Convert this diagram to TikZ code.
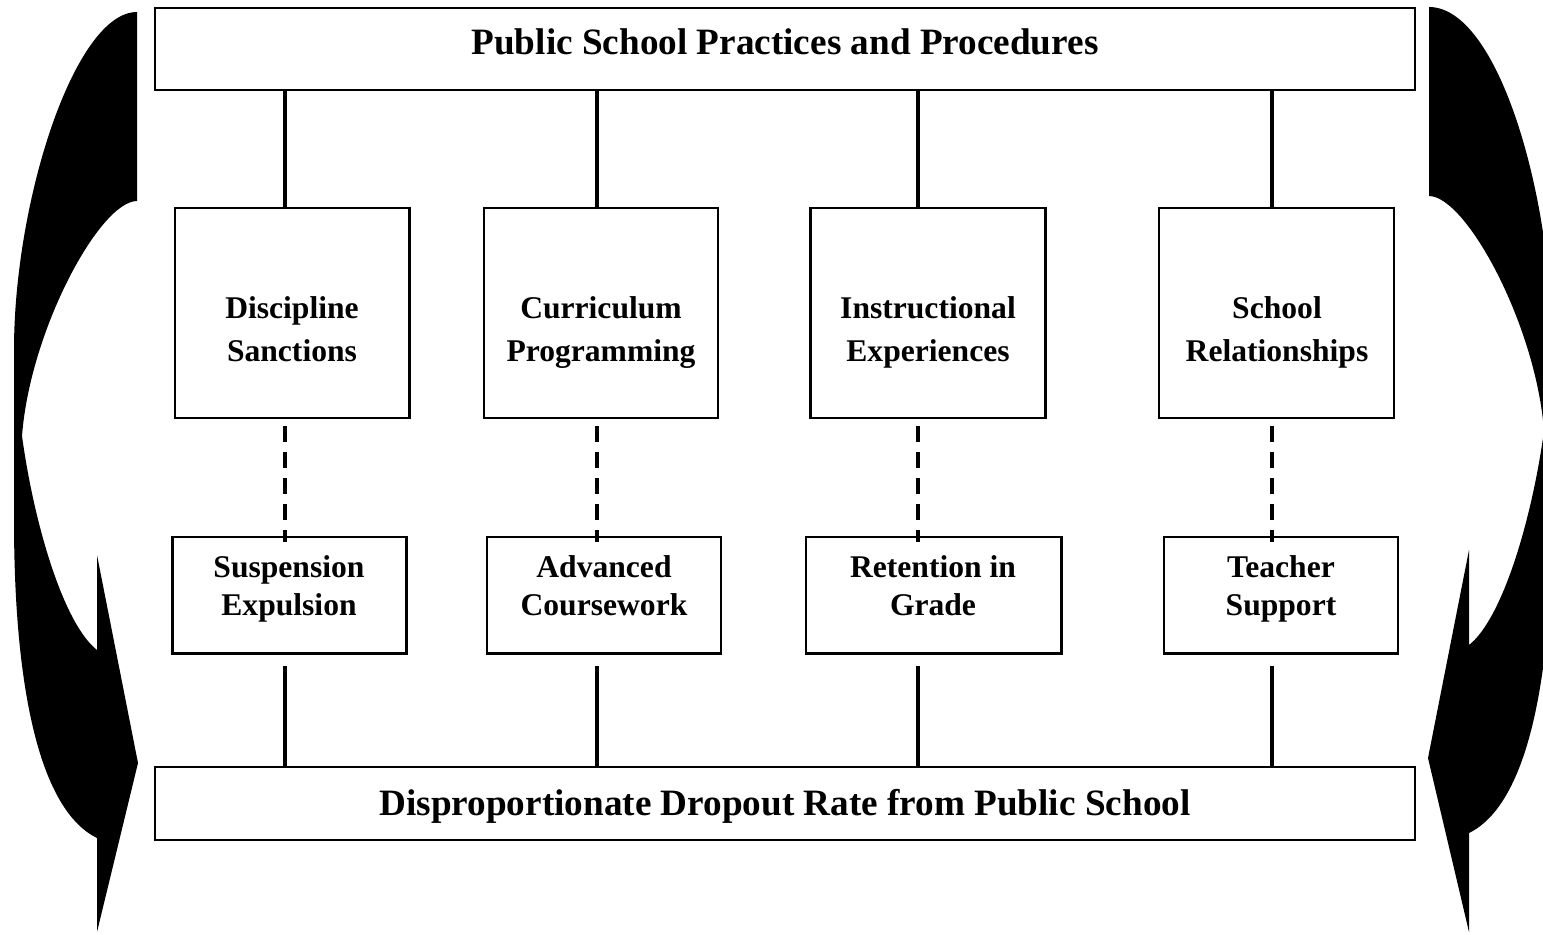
\documentclass[tikz,border=0pt]{standalone}
\usepackage{fontspec}
\setmainfont{Liberation Serif}
\begin{document}
\begin{tikzpicture}[x=0.5pt,y=-0.5pt,
  box/.style={draw,line width=1.3pt,rectangle,inner sep=0pt},
  lbl/.style={align=center,inner sep=0pt,anchor=base,font=\bfseries\fontsize{15.8}{21.5}\selectfont},
  lblb/.style={align=center,inner sep=0pt,anchor=base,font=\bfseries\fontsize{15.8}{19}\selectfont},
  headlbl/.style={inner sep=0pt,anchor=base,font=\bfseries\fontsize{18.6}{22}\selectfont},
  stem/.style={line width=2pt},
  dashline/.style={line width=2pt,dash pattern=on 8pt off 5pt},
  bigarrow/.style={fill=black,draw=none}]
\useasboundingbox (0,0) rectangle (1543,934);
\clip (0,0) rectangle (1543,934);

% curved arrow on the left, tail at the top, head pointing at the bottom box
\path[bigarrow] (137,12) -- (137,201)
  .. controls (100,201) and (30,330) .. (22,436)
  .. controls (35,530) and (65,625) .. (97,650)
  -- (97,555) -- (138,763) -- (97,932) -- (97,838)
  .. controls (40,810) and (14,690) .. (14,520)
  -- (14,350)
  .. controls (14,200) and (75,12) .. (137,12) -- cycle;

% the same arrow mirrored on the right
\path[bigarrow] (1429,7) -- (1429,196)
  .. controls (1466,196) and (1536,325) .. (1544,431)
  .. controls (1531,525) and (1501,620) .. (1469,645)
  -- (1469,550) -- (1428,758) -- (1469,932) -- (1469,833)
  .. controls (1526,805) and (1552,685) .. (1552,515)
  -- (1552,345)
  .. controls (1552,195) and (1498,7) .. (1429,7) -- cycle;

% top and bottom boxes
\node[box,minimum width=630pt,minimum height=41pt] (top) at (785,49) {};
\node[headlbl] (toplbl) at (785,54) {Public School Practices and Procedures};
\node[box,minimum width=630pt,minimum height=36.5pt] (bot) at (785,803.5) {};
\node[headlbl] (botlbl) at (785,815) {Disproportionate Dropout Rate from Public School};

% practice boxes (label anchor = baseline of the last line)
\node[box,minimum width=117.25pt,minimum height=105pt] (d1) at (292.25,313) {};
\node[box,minimum width=117pt,minimum height=105pt] (d2) at (601,313) {};
\node[box,minimum width=117.5pt,minimum height=105pt] (d3) at (928,313) {};
\node[box,minimum width=117.5pt,minimum height=105pt] (d4) at (1276.5,313) {};
\node[lbl] (t1) at (292,361) {Discipline\\Sanctions};
\node[lbl] (t2) at (601,361) {Curriculum\\Programming};
\node[lbl] (t3) at (928,361) {Instructional\\Experiences};
\node[lbl] (t4) at (1277,361) {School\\Relationships};

% outcome boxes
\node[box,minimum width=117pt,minimum height=58.25pt] (e1) at (289.5,595.25) {};
\node[box,minimum width=117pt,minimum height=58.25pt] (e2) at (604,595.25) {};
\node[box,minimum width=127.75pt,minimum height=58.25pt] (e3) at (933.75,595.25) {};
\node[box,minimum width=117pt,minimum height=58.25pt] (e4) at (1281,595.25) {};
\node[lblb] (u1) at (289,615) {Suspension\\Expulsion};
\node[lblb] (u2) at (604,615) {Advanced\\Coursework};
\node[lblb] (u3) at (933,615) {Retention in\\Grade};
\node[lblb] (u4) at (1281,615) {Teacher\\Support};

% connector columns
\coordinate (c1) at (285,0);
\coordinate (c2) at (597,0);
\coordinate (c3) at (918,0);
\coordinate (c4) at (1272,0);

\foreach \i in {1,2,3,4}{
  \draw[stem] (top.south -| c\i) -- (d\i.north -| c\i);
  \draw[dashline] ([yshift=-3.5pt]d\i.south -| c\i) -- ([yshift=-3pt]e\i.north -| c\i);
  \draw[stem] ([yshift=-5.5pt]e\i.south -| c\i) -- (bot.north -| c\i);
}
\end{tikzpicture}
\end{document}
